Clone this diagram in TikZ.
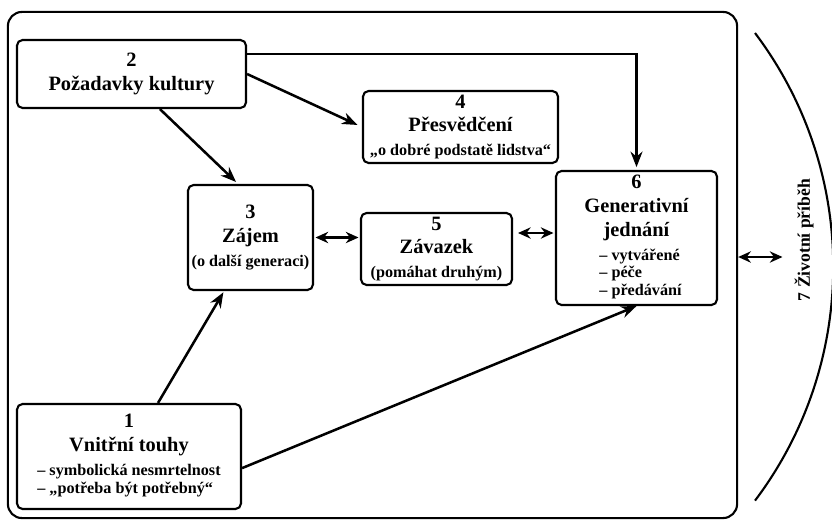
\documentclass[tikz,border=0pt]{standalone}
\usepackage{fontspec}
\setmainfont{Liberation Serif}
\usetikzlibrary{arrows.meta}
\newcommand{\subsize}{\fontsize{11.5}{12.5}\selectfont}
\newcommand{\sublist}[1]{{\subsize\begin{tabular}[t]{@{}l@{}}#1\end{tabular}}}
\begin{document}
\begin{tikzpicture}[x=0.025cm, y=-0.025cm,
    box/.style={draw, line width=1.5pt, rounded corners=4pt, align=center, inner sep=2pt,
        font=\bfseries\fontsize{14.5}{17}\selectfont},
    arr/.style={line width=1.8pt, -{Stealth[length=11pt,width=8.5pt]}},
    darr/.style={line width=1.8pt, {Stealth[length=9pt,width=8pt]}-{Stealth[length=9pt,width=8pt]}}]
    \useasboundingbox (0,0) rectangle (832,520);

    % frame and the seven parts
    \node [draw, line width=1.5pt, rounded corners=10pt, minimum width=18.225cm, minimum height=12.65cm] (outer) at (372.5,265) {};
    \node [box, minimum width=5.725cm, minimum height=1.7cm] (b2) at (131.5,74) {2\\Požadavky kultury};
    \node [box, minimum width=4.875cm, minimum height=1.8cm] (b4) at (460.5,127) {4\\Přesvědčení\\{\subsize „o dobré podstatě lidstva“}};
    \node [box, minimum width=3.125cm, minimum height=2.625cm] (b3) at (250.5,237.5) {3\\Zájem\\{\subsize (o další generaci)}};
    \node [box, minimum width=3.775cm, minimum height=1.8cm] (b5) at (436.5,249) {5\\Závazek\\{\subsize (pomáhat druhým)}};
    \node [box, minimum width=4.025cm, minimum height=3.35cm] (b6) at (636.5,238) {6\\Generativní\\jednání\\\hspace{0.2cm}\sublist{– vytvářené\\– péče\\– předávání}};
    \node [box, minimum width=5.6cm, minimum height=2.625cm] (b1) at (129,456.5) {1\\Vnitřní touhy\\\sublist{– symbolická nesmrtelnost\\– „potřeba být potřebný“}};
    \node [rotate=90, font=\bfseries\fontsize{12.5}{14}\selectfont] (t7) at (804,240) {7 Životní příběh};
    \draw [line width=1.5pt] (755,33) arc [start angle=37, end angle=-37, radius=9.71cm];

    % connectors
    \draw [arr, shorten >=2pt] ([xshift=0.71cm]b2.south) -- ([xshift=-0.31cm]b3.north);
    \draw [arr, shorten >=3.5pt] (b2.east) -- (b4.west);
    \draw [arr, shorten >=2pt] ([yshift=0.5cm]b2.east) -| (b6.north);
    \draw [darr, shorten <=1pt, shorten >=1pt] (b3.east) -- (b3.east -| b5.west);
    \draw [darr, shorten <=3.5pt, shorten >=1pt] ([yshift=0.4cm]b5.east) -- ([yshift=0.4cm]b5.east -| b6.west);
    \draw [arr, shorten >=1pt] ([xshift=0.725cm]b1.north) -- ([xshift=-0.66cm]b3.south);
    \draw [arr] ([yshift=-0.29cm]b1.east) -- (b6.south);
    \draw [darr, shorten >=5pt] ([yshift=0.2cm]outer.east) -- ([yshift=0.2cm]outer.east -| t7.north);
\end{tikzpicture}
\end{document}
